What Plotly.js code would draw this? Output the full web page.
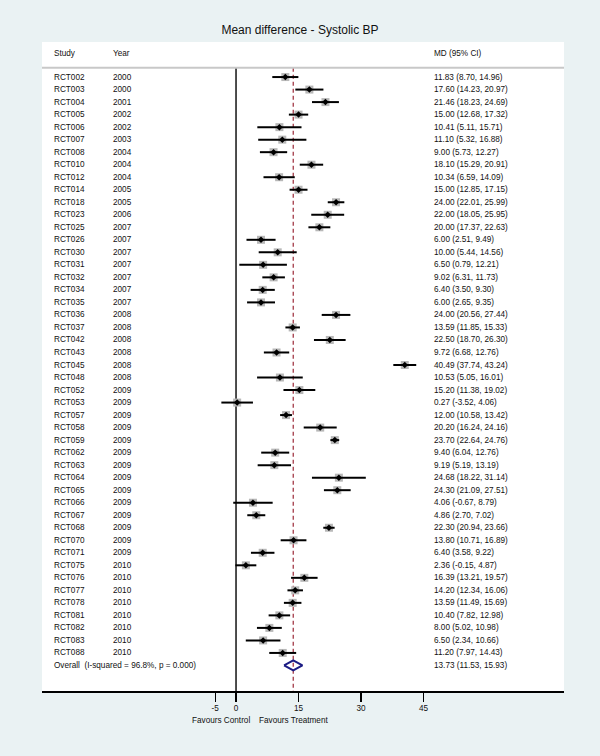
<!DOCTYPE html>
<html>
<head>
<meta charset="utf-8">
<script src="https://cdn.plot.ly/plotly-3.0.1.min.js"></script>
<style>html,body{margin:0;padding:0;background:#eaf2f3;}#chart{width:600px;height:756px;}</style>
</head>
<body>
<div id="chart"></div>
<script>
const studies = ["RCT002","RCT003","RCT004","RCT005","RCT006","RCT007","RCT008","RCT010","RCT012","RCT014","RCT018","RCT023","RCT025","RCT026","RCT030","RCT031","RCT032","RCT034","RCT035","RCT036","RCT037","RCT042","RCT043","RCT045","RCT048","RCT052","RCT053","RCT057","RCT058","RCT059","RCT062","RCT063","RCT064","RCT065","RCT066","RCT067","RCT068","RCT070","RCT071","RCT075","RCT076","RCT077","RCT078","RCT081","RCT082","RCT083","RCT088"];
const years = [2000,2000,2001,2002,2002,2003,2004,2004,2004,2005,2005,2006,2007,2007,2007,2007,2007,2007,2007,2008,2008,2008,2008,2008,2008,2009,2009,2009,2009,2009,2009,2009,2009,2009,2009,2009,2009,2009,2009,2010,2010,2010,2010,2010,2010,2010,2010];
const md = [11.83,17.60,21.46,15.00,10.41,11.10,9.00,18.10,10.34,15.00,24.00,22.00,20.00,6.00,10.00,6.50,9.02,6.40,6.00,24.00,13.59,22.50,9.72,40.49,10.53,15.20,0.27,12.00,20.20,23.70,9.40,9.19,24.68,24.30,4.06,4.86,22.30,13.80,6.40,2.36,16.39,14.20,13.59,10.40,8.00,6.50,11.20];
const lo = [8.70,14.23,18.23,12.68,5.11,5.32,5.73,15.29,6.59,12.85,22.01,18.05,17.37,2.51,5.44,0.79,6.31,3.50,2.65,20.56,11.85,18.70,6.68,37.74,5.05,11.38,-3.52,10.58,16.24,22.64,6.04,5.19,18.22,21.09,-0.67,2.70,20.94,10.71,3.58,-0.15,13.21,12.34,11.49,7.82,5.02,2.34,7.97];
const hi = [14.96,20.97,24.69,17.32,15.71,16.88,12.27,20.91,14.09,17.15,25.99,25.95,22.63,9.49,14.56,12.21,11.73,9.30,9.35,27.44,15.33,26.30,12.76,43.24,16.01,19.02,4.06,13.42,24.16,24.76,12.76,13.19,31.14,27.51,8.79,7.02,23.66,16.89,9.22,4.87,19.57,16.06,15.69,12.98,10.98,10.66,14.43];
const overallLabel = "Overall  (I-squared = 96.8%, p = 0.000)";
const overall = {md: 13.73, lo: 11.53, hi: 15.93};
const headers = ["Study", "Year", "MD (95% CI)"];
const tickVals = [-5, 0, 15, 30, 45];
const favourLabels = ["Favours Control", "Favours Treatment"];

const n = studies.length;
const idx = studies.map((_, i) => i);
const overallY = n;
const yTop = -2.8, yBottom = 49.04, sepY = -0.75, headY = -1.92;
const fmt = v => v.toFixed(2);
const ciText = (m, l, h) => fmt(m) + " (" + fmt(l) + ", " + fmt(h) + ")";

const FONT = "Liberation Sans, Arial, Helvetica, sans-serif";
const fs = 8.2;

const traces = [
  // zero line
  {x: [0, 0], y: [sepY, yBottom], mode: "lines", line: {color: "#222", width: 1.6}, hoverinfo: "skip", showlegend: false},
  // overall dashed line
  {x: [overall.md, overall.md], y: [sepY, yBottom], mode: "lines", line: {color: "#a33a48", width: 1.3, dash: "4px,3px"}, hoverinfo: "skip", showlegend: false},
  // grey weight squares
  {x: md, y: idx, mode: "markers", marker: {symbol: "square", size: 8, color: "#b8b8b8"}, hoverinfo: "skip", showlegend: false},
  // CI bars + point
  {x: md, y: idx, mode: "markers",
   marker: {symbol: "diamond", size: 5, color: "#000"},
   error_x: {type: "data", symmetric: false, array: md.map((m, i) => hi[i] - m), arrayminus: md.map((m, i) => m - lo[i]), width: 0, thickness: 2, color: "#000"},
   showlegend: false},
  // overall diamond
  {x: [overall.lo, overall.md, overall.hi, overall.md, overall.lo], y: [overallY, overallY - 0.4, overallY, overallY + 0.4, overallY],
   mode: "lines", line: {color: "#1c1c84", width: 2}, hoverinfo: "skip", showlegend: false}
];

const ann = [];
const colX = [0.0192, 0.1322, 0.7471];
headers.forEach((h, k) => ann.push({xref: "paper", yref: "y", x: colX[k], y: headY, text: h, showarrow: false, xanchor: "left", yanchor: "middle", font: {size: fs, color: "#111"}}));
studies.forEach((s, i) => {
  ann.push({xref: "paper", yref: "y", x: colX[0], y: i, text: s, showarrow: false, xanchor: "left", yanchor: "middle", font: {size: fs, color: "#111"}});
  ann.push({xref: "paper", yref: "y", x: colX[1], y: i, text: String(years[i]), showarrow: false, xanchor: "left", yanchor: "middle", font: {size: fs, color: "#111"}});
  ann.push({xref: "paper", yref: "y", x: colX[2], y: i, text: ciText(md[i], lo[i], hi[i]), showarrow: false, xanchor: "left", yanchor: "middle", font: {size: fs, color: "#111"}});
});
ann.push({xref: "paper", yref: "y", x: colX[0], y: overallY, text: overallLabel, showarrow: false, xanchor: "left", yanchor: "middle", font: {size: fs, color: "#111"}});
ann.push({xref: "paper", yref: "y", x: colX[2], y: overallY, text: ciText(overall.md, overall.lo, overall.hi), showarrow: false, xanchor: "left", yanchor: "middle", font: {size: fs, color: "#111"}});
ann.push({xref: "paper", yref: "paper", x: 0.4023, y: -0.0462, text: favourLabels[0], showarrow: false, xanchor: "right", yanchor: "middle", font: {size: fs, color: "#111"}});
ann.push({xref: "paper", yref: "paper", x: 0.4119, y: -0.0462, text: favourLabels[1], showarrow: false, xanchor: "left", yanchor: "middle", font: {size: fs, color: "#111"}});

const layout = {
  width: 600, height: 756,
  margin: {l: 42, r: 36, t: 42, b: 65, pad: 0},
  paper_bgcolor: "#eaf2f3",
  plot_bgcolor: "#ffffff",
  font: {family: FONT, size: fs, color: "#111"},
  title: {text: "Mean difference - Systolic BP", x: 0.5, xref: "container", y: 1 - 30/756, yref: "container", xanchor: "center", yanchor: "middle", font: {size: 12, color: "#111", family: FONT}},
  xaxis: {range: [-46.56, 78.7], tickvals: tickVals, ticktext: tickVals.map(String), ticks: "outside", ticklen: 9, tickwidth: 1.3, tickcolor: "#000",
          showline: true, linecolor: "#000", linewidth: 1.5, showgrid: false, zeroline: false, fixedrange: true,
          tickfont: {size: fs, color: "#111"}},
  yaxis: {range: [yBottom, yTop], showticklabels: false, showgrid: false, zeroline: false, showline: false, ticks: "", fixedrange: true},
  shapes: [{type: "line", xref: "paper", yref: "y", x0: 0, x1: 1, y0: sepY, y1: sepY, line: {color: "#c8c8c8", width: 2}}],
  annotations: ann,
  showlegend: false
};

Plotly.newPlot("chart", traces, layout, {displayModeBar: false, staticPlot: true});
</script>
</body>
</html>
